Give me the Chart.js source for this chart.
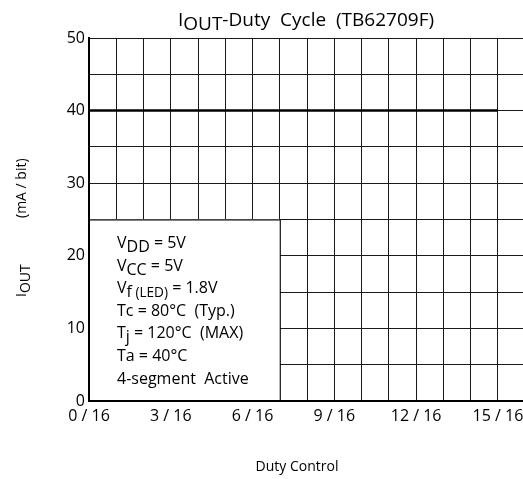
<!DOCTYPE html>
<html>
<head>
<meta charset="utf-8">
<script src="https://cdn.jsdelivr.net/npm/chart.js@4.4.1/dist/chart.umd.min.js"></script>
<style>
  html, body { margin: 0; padding: 0; background: #fff; }
  #wrap { width: 523px; height: 479px; }
</style>
</head>
<body>
<div id="wrap"><canvas id="ioutChart" width="523" height="479"></canvas></div>
<script>
// duty steps (n/16) and the labelled ones
var dutySteps = [0, 1, 2, 3, 4, 5, 6, 7, 8, 9, 10, 11, 12, 13, 14, 15];
var dutyLabelSteps = [0, 3, 6, 9, 12, 15];
var dutyDenominator = 16;

// IOUT limit line (mA/bit)
var dutyPoints = [0, 15];
var ioutValues = [40, 40];

var ioutGridStep = 5;
var ioutLabelTicks = [0, 10, 20, 30, 40, 50];

// condition box text, sub = subscript part
var conditionLines = [
    [{ t: 'V' }, { t: 'DD', sub: true }, { t: ' = 5V' }],
    [{ t: 'V' }, { t: 'CC', sub: true }, { t: ' = 5V' }],
    [{ t: 'V' }, { t: 'f', sub: true }, { t: ' (LED)', sub: true, small: true }, { t: ' = 1.8V' }],
    [{ t: 'Tc = 80°C  (Typ.)' }],
    [{ t: 'T' }, { t: 'j', sub: true }, { t: ' = 120°C  (MAX)' }],
    [{ t: 'Ta = 40°C' }],
    [{ t: '4-segment  Active' }]
];
var titleParts = [{ t: 'I' }, { t: 'OUT', sub: true }, { t: '-Duty  Cycle  (TB62709F)' }];
var yTitleParts = [{ t: 'I' }, { t: 'OUT', sub: true }];
var yTitleUnit = '(mA / bit)';
var xTitle = 'Duty Control';

var FONT = '"Open Sans", "DejaVu Sans", sans-serif';

function partsWidth(ctx, parts, size) {
    var w = 0;
    parts.forEach(function(p) {
        ctx.font = (p.small ? size * 0.85 : size) + 'px ' + FONT;
        w += ctx.measureText(p.t).width;
    });
    return w;
}

function drawParts(ctx, parts, x, y, size) {
    parts.forEach(function(p) {
        var fs = p.small ? size * 0.85 : size;
        ctx.font = fs + 'px ' + FONT;
        ctx.fillText(p.t, x, y + (p.sub ? 4 : 0));
        x += ctx.measureText(p.t).width;
    });
    return x;
}

var annotations = {
    id: 'annotations',
    afterDatasetsDraw: function(chart) {
        var ctx = chart.ctx;
        var xs = chart.scales.x, ys = chart.scales.y;
        var left = xs.getPixelForValue(0), right = xs.getPixelForValue(7);
        var top = ys.getPixelForValue(25), bottom = ys.getPixelForValue(0);

        ctx.save();
        // condition box
        ctx.fillStyle = '#fff';
        ctx.fillRect(left, top, right - left, bottom - top);
        ctx.strokeStyle = '#000';
        ctx.lineWidth = 1;
        ctx.beginPath();
        ctx.moveTo(left, top + 0.5); ctx.lineTo(right + 0.5, top + 0.5);
        ctx.lineTo(right + 0.5, bottom);
        ctx.stroke();
        ctx.lineWidth = 2;
        ctx.beginPath();
        ctx.moveTo(left, top); ctx.lineTo(left, bottom);
        ctx.lineTo(right + 1, bottom);
        ctx.stroke();

        ctx.fillStyle = '#000';
        ctx.textBaseline = 'alphabetic';
        ctx.textAlign = 'left';
        conditionLines.forEach(function(line, i) {
            drawParts(ctx, line, left + 28, 248 + i * 22.6, 16);
        });

        // title
        var tw = partsWidth(ctx, titleParts, 19);
        drawParts(ctx, titleParts, 306 - tw / 2, 26, 19);

        // x title
        ctx.font = '14px ' + FONT;
        ctx.textAlign = 'center';
        ctx.fillText(xTitle, 297, 471);

        // y title
        ctx.translate(26, 0);
        ctx.rotate(-Math.PI / 2);
        ctx.textAlign = 'left';
        drawParts(ctx, yTitleParts, -297, 0, 14);
        ctx.font = '14px ' + FONT;
        ctx.fillText(yTitleUnit, -218, 0);
        ctx.restore();
    }
};

new Chart(document.getElementById('ioutChart'), {
    type: 'line',
    data: {
        datasets: [{
            data: dutyPoints.map(function(d, i) { return { x: d, y: ioutValues[i] }; }),
            borderColor: '#000',
            borderWidth: 2.5,
            pointRadius: 0,
            fill: false
        }]
    },
    options: {
        responsive: false,
        animation: false,
        devicePixelRatio: 1,
        layout: { padding: { top: 38, left: 0, right: 0, bottom: 0 } },
        plugins: { legend: { display: false }, tooltip: { enabled: false }, title: { display: false } },
        scales: {
            x: {
                type: 'linear',
                min: 0,
                max: 15.92,
                afterBuildTicks: function(scale) {
                    scale.ticks = dutySteps.map(function(v) { return { value: v }; });
                },
                afterFit: function(scale) {
                    scale.height = 78;
                    scale.paddingLeft = 0;
                    scale.paddingRight = 0;
                },
                grid: { color: '#1a1a1a', lineWidth: 1, drawTicks: false },
                border: { color: '#000', width: 2 },
                ticks: {
                    autoSkip: false,
                    maxRotation: 0,
                    padding: 6,
                    color: '#000',
                    font: { family: FONT, size: 16 },
                    callback: function(v) {
                        return dutyLabelSteps.indexOf(v) >= 0 ? v + ' / ' + dutyDenominator : '';
                    }
                }
            },
            y: {
                min: 0,
                max: 50,
                afterFit: function(scale) {
                    scale.width = 89;
                    scale.paddingTop = 0;
                    scale.paddingBottom = 0;
                },
                grid: { color: '#1a1a1a', lineWidth: 1, drawTicks: false },
                border: { color: '#000', width: 2 },
                ticks: {
                    stepSize: ioutGridStep,
                    padding: 4,
                    color: '#000',
                    font: { family: FONT, size: 16 },
                    callback: function(v) {
                        return ioutLabelTicks.indexOf(v) >= 0 ? v : '';
                    }
                }
            }
        }
    },
    plugins: [annotations]
});
</script>
</body>
</html>
